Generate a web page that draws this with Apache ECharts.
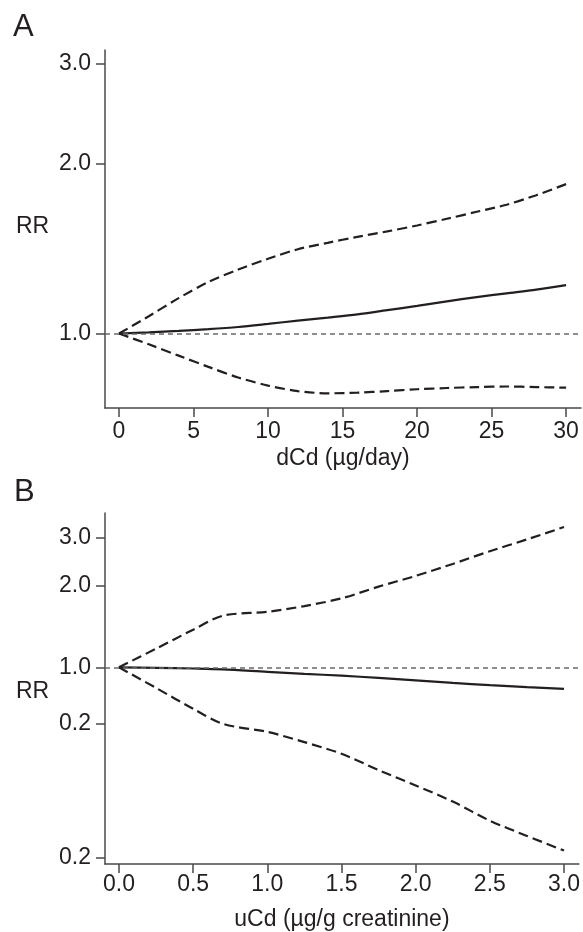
<!DOCTYPE html>
<html>
<head>
<meta charset="utf-8">
<script src="https://cdn.jsdelivr.net/npm/echarts@6/dist/echarts.min.js"></script>
<style>
html, body { margin: 0; padding: 0; background: #fff; }
#main { width: 583px; height: 932px; }
</style>
</head>
<body>
<div id="main"></div>
<script>
// panel A: dietary cadmium
var xA = [0, 2, 4, 6, 8, 10, 12, 14, 16, 18, 20, 22, 24, 26, 28, 30];
var pointA = [1.0, 1.005, 1.011, 1.018, 1.027, 1.04, 1.054, 1.067, 1.081, 1.10, 1.119, 1.14, 1.16, 1.178, 1.196, 1.218];
var upperA = [1.0, 1.073, 1.155, 1.234, 1.298, 1.356, 1.41, 1.447, 1.483, 1.516, 1.553, 1.596, 1.642, 1.69, 1.757, 1.838];
var lowerA = [1.0, 0.957, 0.914, 0.873, 0.836, 0.809, 0.791, 0.784, 0.786, 0.791, 0.797, 0.801, 0.804, 0.806, 0.804, 0.802];
var xTicksA = [0, 5, 10, 15, 20, 25, 30];
var yTicksA = [1, 2, 3];
var yLabelsA = ['1.0', '2.0', '3.0'];

// panel B: urinary cadmium
var xB = [0, 0.25, 0.5, 0.7, 1.0, 1.25, 1.5, 1.75, 2.0, 2.25, 2.5, 2.75, 3.0];
var pointB = [1.0, 0.996, 0.99, 0.983, 0.962, 0.946, 0.932, 0.914, 0.895, 0.876, 0.86, 0.846, 0.833];
var upperB = [1.0, 1.171, 1.375, 1.548, 1.6, 1.68, 1.793, 1.98, 2.168, 2.40, 2.673, 2.953, 3.28];
var lowerB = [1.0, 0.840, 0.704, 0.62, 0.579, 0.531, 0.481, 0.419, 0.368, 0.321, 0.273, 0.24, 0.212];
var xTicksB = [0, 0.5, 1, 1.5, 2, 2.5, 3];
var yTicksB = [0.2, 0.62, 1, 2, 3];
var yLabelsB = ['0.2', '0.2', '1.0', '2.0', '3.0'];

var ink = '#231f20';
var axisCol = '#4a4a4a';
var font = 'Liberation Sans, Arial, sans-serif';
var fs = 23;

function lnTicks(arr) { return arr.map(function (v) { return Math.log(v); }); }

function tickLabel(ticks, labels) {
  return function (v) {
    for (var i = 0; i < ticks.length; i++) {
      if (Math.abs(Math.log(ticks[i]) - v) < 1e-6) return labels[i];
    }
    return '';
  };
}

function pairs(xs, ys) {
  return xs.map(function (x, i) { return [x, Math.log(ys[i])]; });
}

function xAxisOf(idx, min, max, ticks, fmt, name, margin, gap) {
  return {
    type: 'value', gridIndex: idx, min: min, max: max,
    splitLine: { show: false },
    axisLine: { onZero: false, lineStyle: { color: axisCol, width: 1.5 } },
    axisTick: { customValues: ticks, length: 9, lineStyle: { color: axisCol, width: 1.5 } },
    axisLabel: { customValues: ticks, formatter: fmt, margin: margin, color: ink, fontSize: fs, fontFamily: font },
    name: name, nameLocation: 'middle', nameGap: gap,
    nameTextStyle: { color: ink, fontSize: fs, fontFamily: font }
  };
}

function yAxisOf(idx, min, max, ticks, labels) {
  var t = lnTicks(ticks);
  return {
    type: 'value', gridIndex: idx, min: min, max: max,
    splitLine: { show: false },
    axisLine: { show: true, onZero: false, lineStyle: { color: axisCol, width: 1.5 } },
    axisTick: { show: true, customValues: t, length: 9, lineStyle: { color: axisCol, width: 1.5 } },
    axisLabel: { customValues: t, formatter: tickLabel(ticks, labels), margin: 14, color: ink, fontSize: fs, fontFamily: font }
  };
}

function lines(idx, xs, pt, up, lo) {
  var dash = { color: ink, width: 2.2, type: [10, 5] };
  return [
    {
      type: 'line', xAxisIndex: idx, yAxisIndex: idx, data: pairs(xs, pt),
      showSymbol: false, smooth: 0.3, silent: true,
      lineStyle: { color: ink, width: 2.2 },
      markLine: {
        silent: true, symbol: ['none', 'none'], label: { show: false },
        lineStyle: { color: '#6a6a6a', width: 1.6, type: [5, 4] },
        data: [{ yAxis: 0 }]
      }
    },
    { type: 'line', xAxisIndex: idx, yAxisIndex: idx, data: pairs(xs, up), showSymbol: false, smooth: 0.3, silent: true, lineStyle: dash },
    { type: 'line', xAxisIndex: idx, yAxisIndex: idx, data: pairs(xs, lo), showSymbol: false, smooth: 0.3, silent: true, lineStyle: dash }
  ];
}

var chart = echarts.init(document.getElementById('main'), null, { renderer: 'canvas' });

var option = {
  animation: false,
  backgroundColor: '#fff',
  grid: [
    { left: 105, right: 2, top: 50, height: 358 },
    { left: 105, right: 2, top: 513, height: 359 }
  ],
  xAxis: [
    xAxisOf(0, -0.94, 31, xTicksA, function (v) { return String(v); }, 'dCd (µg/day)', 12, 39),
    xAxisOf(1, -0.094, 3.1, xTicksB, function (v) { return v.toFixed(1); }, 'uCd (µg/g creatinine)', 9, 44)
  ],
  yAxis: [
    yAxisOf(0, -0.3033, 1.155, yTicksA, yLabelsA),
    yAxisOf(1, -1.665, 1.3066, yTicksB, yLabelsB)
  ],
  graphic: [
    { type: 'text', left: 13, top: 12, style: { text: 'A', fontSize: 31, fontFamily: font, fill: ink } },
    { type: 'text', left: 14, top: 477, style: { text: 'B', fontSize: 31, fontFamily: font, fill: ink } },
    { type: 'text', left: 16, top: 215, style: { text: 'RR', fontSize: fs, fontFamily: font, fill: ink } },
    { type: 'text', left: 16, top: 680, style: { text: 'RR', fontSize: fs, fontFamily: font, fill: ink } }
  ],
  series: lines(0, xA, pointA, upperA, lowerA).concat(lines(1, xB, pointB, upperB, lowerB))
};

chart.setOption(option);
</script>
</body>
</html>
